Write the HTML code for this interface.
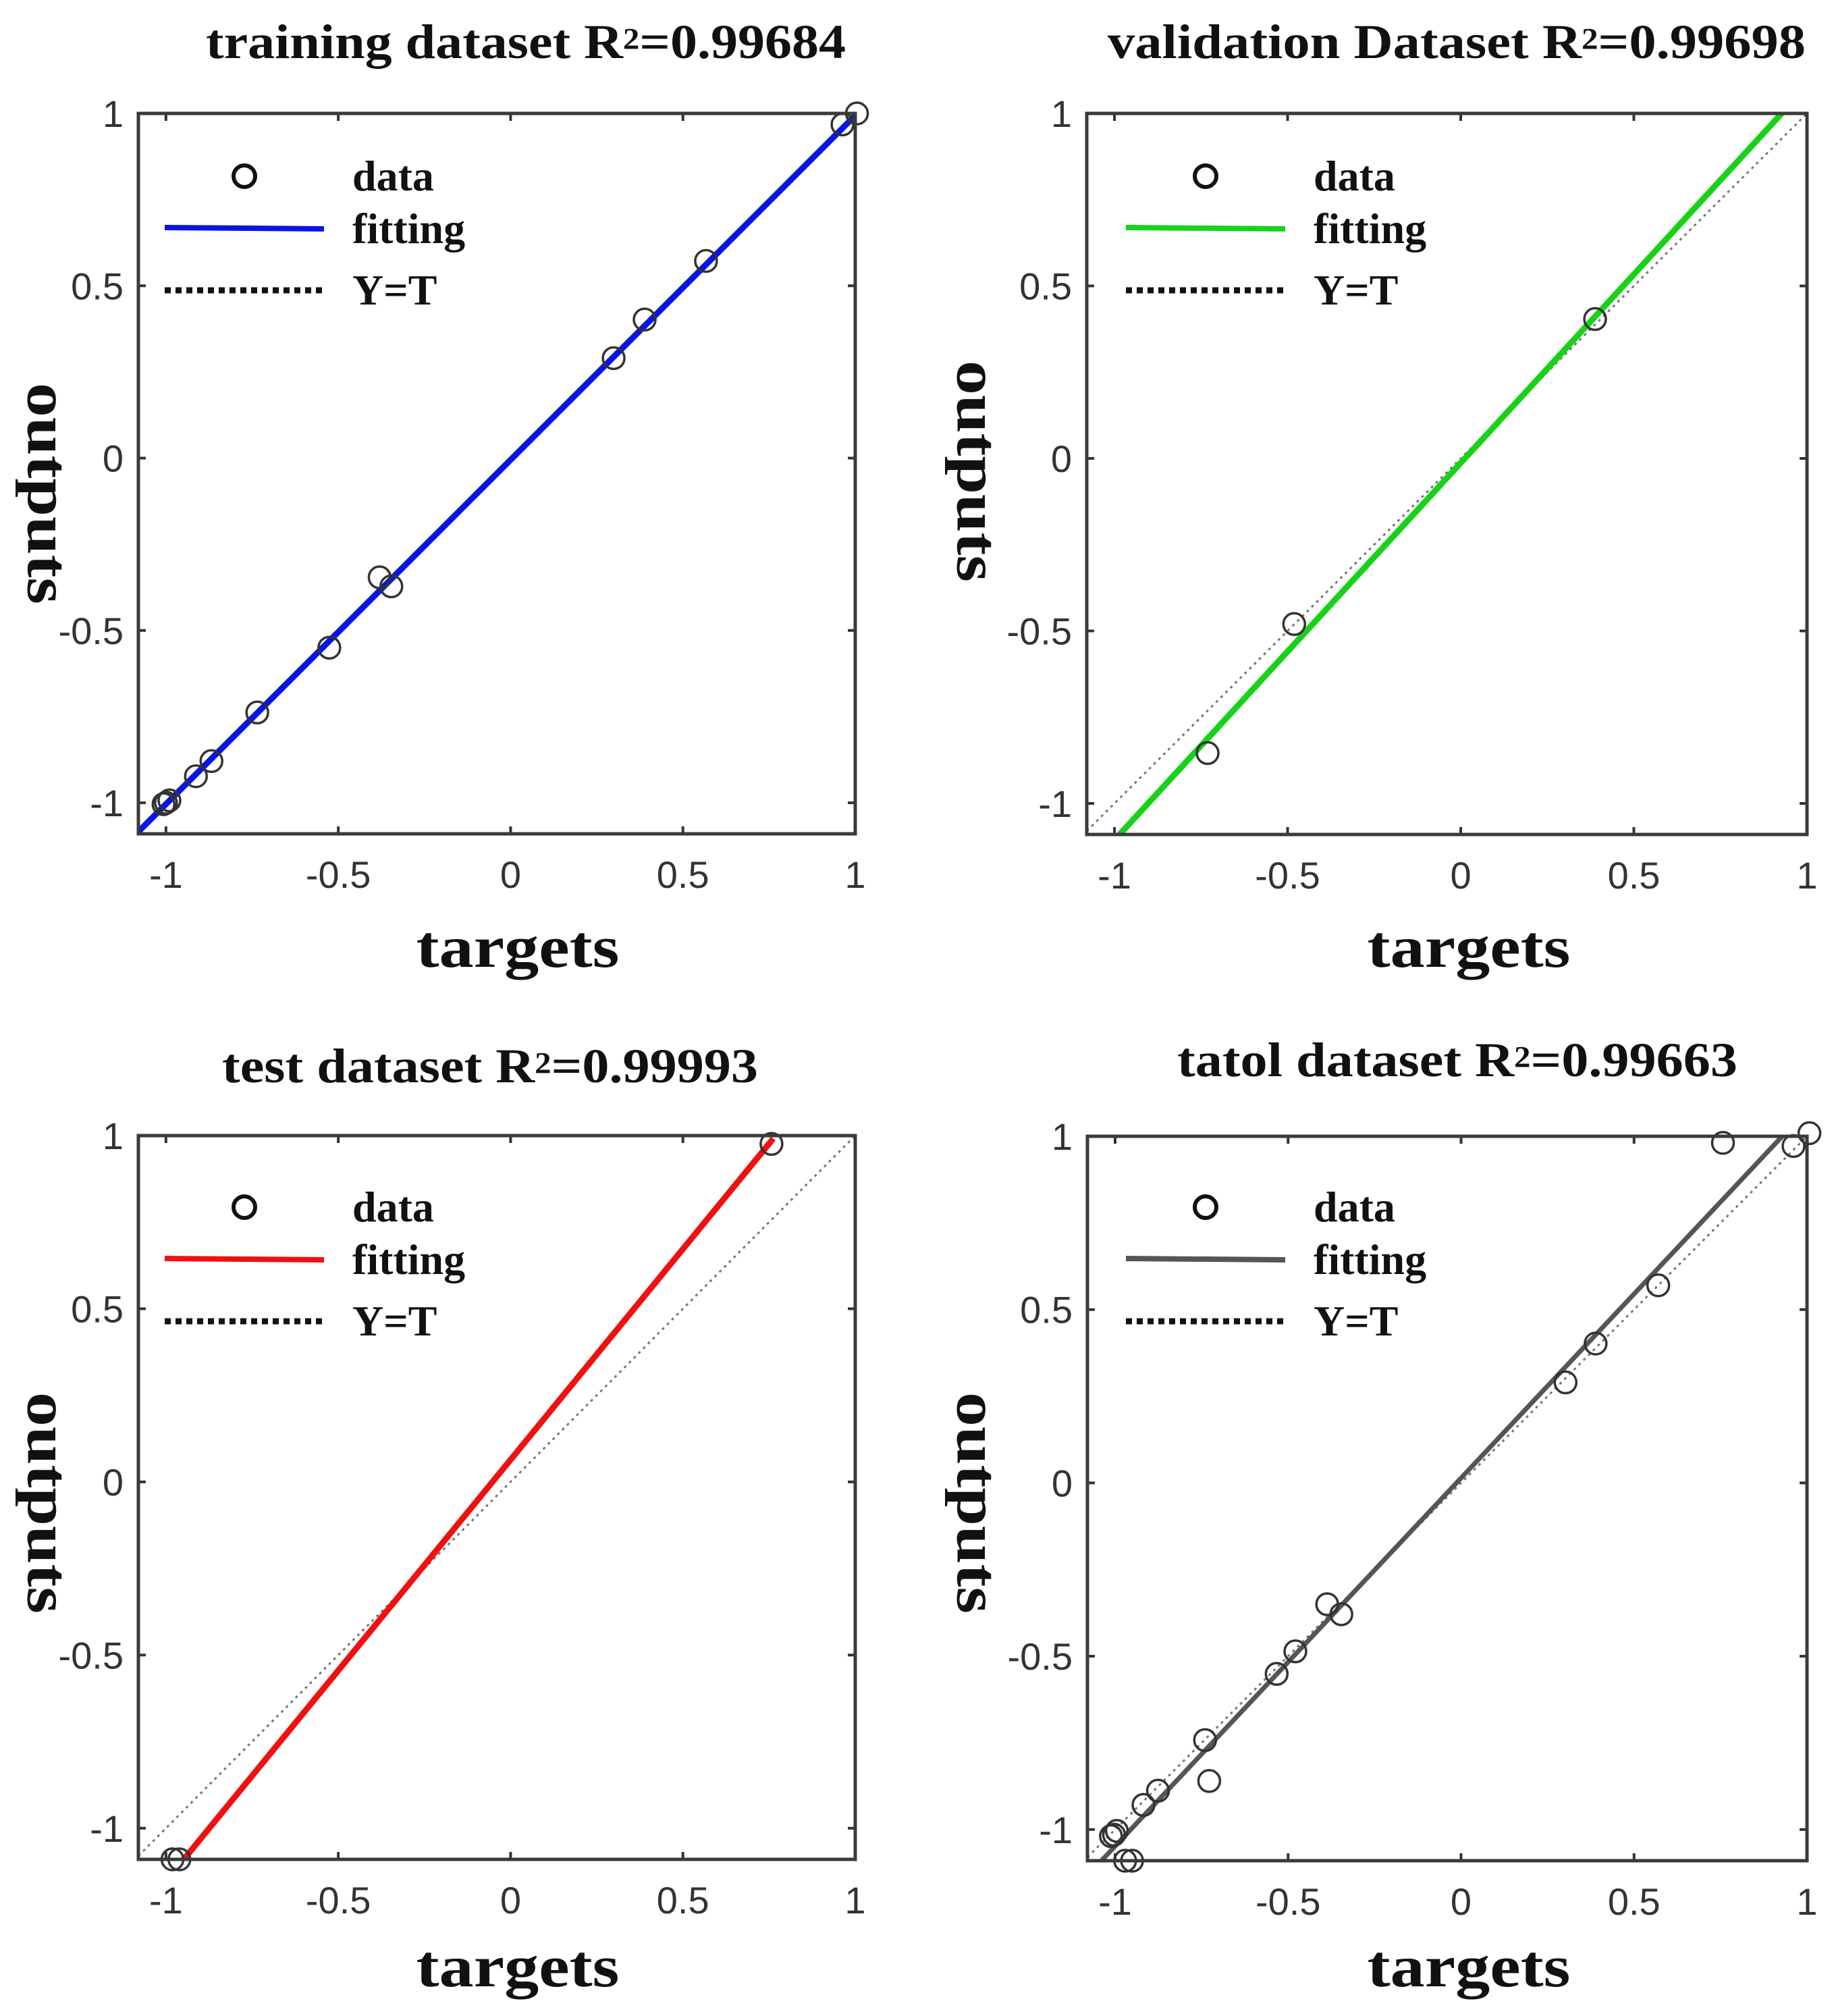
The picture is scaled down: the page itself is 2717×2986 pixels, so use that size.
<!DOCTYPE html>
<html><head><meta charset="utf-8"><style>
html,body{margin:0;padding:0;background:#fff;}
svg{display:block;}
</style></head><body>
<svg id="fig" xmlns="http://www.w3.org/2000/svg" width="2717" height="2986" viewBox="0 0 2717 2986"></svg>
<script>
// ---- data ----
const trainTargets = [1.005,0.963,0.567,0.389,0.299,-0.38,-0.346,-0.526,-0.735,-0.868,-0.913,-1.0,-0.99,-1.007];
const trainOutputs = [1.0,0.968,0.572,0.402,0.29,-0.346,-0.372,-0.55,-0.738,-0.879,-0.923,-1.0,-0.993,-1.004];
const valTargets = [0.388,-0.481,-0.731];
const valOutputs = [0.404,-0.48,-0.854];
const testTargets = [0.757,-0.961,-0.981];
const testOutputs = [0.976,-1.09,-1.09];
const totalTargets = [1.007,0.961,0.757,0.570,0.389,0.302,-0.387,-0.346,-0.479,-0.533,-0.74,-0.728,-0.876,-0.918,-1.003,-0.995,-1.012,-0.971,-0.951];
const totalOutputs = [1.009,0.972,0.981,0.570,0.402,0.29,-0.35,-0.379,-0.486,-0.551,-0.742,-0.86,-0.888,-0.929,-1.015,-1.004,-1.019,-1.09,-1.09];
const fitSlopes = [0.999,1.093,1.217,1.062];
const fitIntercepts = [-0.005,-0.013,0.064,0.014];
const fitRangeStart = [-1.08,-1.08,-0.955,-1.06];
const fitRangeEnd = [1.0,1.0,0.762,0.932];
const titleNames = ["training dataset R","validation Dataset R","test dataset R","tatol dataset R"];
const r2Values = ["=0.99684","=0.99698","=0.99993","=0.99663"];
const tickValues = [-1,-0.5,0,0.5,1];
const tickLabels = ["-1","-0.5","0","0.5","1"];

const NS="http://www.w3.org/2000/svg";
const svg=document.getElementById('fig');
function mk(tag,attrs,parent){const e=document.createElementNS(NS,tag);for(const k in attrs)e.setAttribute(k,attrs[k]);(parent||svg).appendChild(e);return e;}

const panels=[
 {L:205,T:168,R:1267,B:1235,col:"#0a14e6",fw:9,tx:[305,948],ty:86,tgX:767,tgY:1432,outX:70,outY:731,lgX:362,lgT:522,lgL:[244,480],lgY:261,tT:trainTargets,tO:trainOutputs},
 {L:1610,T:168,R:2677,B:1236,col:"#18d218",fw:9,tx:[1641,1034],ty:86,tgX:2176,tgY:1432,outX:1447,outY:698,lgX:1786,lgT:1946,lgL:[1668,1904],lgY:261,tT:valTargets,tO:valOutputs},
 {L:205,T:1682,R:1267,B:2754,col:"#f01010",fw:9,tx:[329,794],ty:1603,tgX:767,tgY:2942,outX:70,outY:2226,lgX:362,lgT:522,lgL:[244,480],lgY:1788,tT:testTargets,tO:testOutputs},
 {L:1611,T:1683,R:2677,B:2756,col:"#555555",fw:7,tx:[1744,830],ty:1594,tgX:2176,tgY:2942,outX:1447,outY:2226,lgX:1786,lgT:1946,lgL:[1668,1904],lgY:1788,tT:totalTargets,tO:totalOutputs}
];
const XMIN=-1.08,XMAX=1.0,YMIN=-1.09,YMAX=1.0;

panels.forEach((p,i)=>{
  const g=mk('g',{});
  
  
  const sx=v=>p.L+(v-XMIN)/(XMAX-XMIN)*(p.R-p.L);
  const sy=v=>p.B-(v-YMIN)/(YMAX-YMIN)*(p.B-p.T);
  const cid='clip'+i;
  const cp=mk('clipPath',{id:cid},g);
  mk('rect',{x:p.L,y:p.T,width:p.R-p.L,height:p.B-p.T},cp);
  // title
  const t=mk('text',{x:p.tx[0],y:p.ty,'font-family':'"Liberation Serif",serif','font-weight':'bold','font-size':72,fill:'#111'},g);
  
  
  const s1=mk('tspan',{},t);s1.textContent=titleNames[i];
  const s2=mk('tspan',{'font-size':44,dy:-14},t);s2.textContent='2';
  const s3=mk('tspan',{dy:14},t);s3.textContent=r2Values[i];
  t.setAttribute('textLength',p.tx[1]);t.setAttribute('lengthAdjust','spacingAndGlyphs');
  // ticks
  tickValues.forEach((v,k)=>{
    const X=sx(v),Y=sy(v);
    mk('line',{x1:X,y1:p.B,x2:X,y2:p.B-11,stroke:'#333','stroke-width':4},g);
    mk('line',{x1:X,y1:p.T,x2:X,y2:p.T+11,stroke:'#333','stroke-width':4},g);
    mk('line',{x1:p.L,y1:Y,x2:p.L+11,y2:Y,stroke:'#333','stroke-width':4},g);
    mk('line',{x1:p.R,y1:Y,x2:p.R-11,y2:Y,stroke:'#333','stroke-width':4},g);
    const xl=mk('text',{x:X,y:p.B+80,'text-anchor':'middle','font-family':'"Liberation Sans",sans-serif','font-size':56,fill:'#333'},g);
    
    
    xl.textContent=tickLabels[k];
    const yl=mk('text',{x:p.L-22,y:Y+20,'text-anchor':'end','font-family':'"Liberation Sans",sans-serif','font-size':56,fill:'#333'},g);
    
    
    yl.textContent=tickLabels[k];
  });
  // Y=T line
  const yt=mk('line',{x1:sx(XMIN),y1:sy(XMIN),x2:sx(XMAX),y2:sy(XMAX),stroke:'#777','stroke-width':3,'stroke-dasharray':'4 6','clip-path':'url(#'+cid+')'},g);
  
  
  // fit line
  const fx0=fitRangeStart[i],fx1=fitRangeEnd[i];
  const fl=mk('line',{x1:sx(fx0),y1:sy(fitSlopes[i]*fx0+fitIntercepts[i]),x2:sx(fx1),y2:sy(fitSlopes[i]*fx1+fitIntercepts[i]),stroke:p.col,'stroke-width':p.fw,'clip-path':'url(#'+cid+')'},g);
  
  
  // data points
  p.tT.forEach((tv,k)=>{
    const c=mk('circle',{cx:sx(tv),cy:sy(p.tO[k]),r:16,fill:'none',stroke:'#333','stroke-width':3.5},g);
    
    
  });
  // box
  const bx=mk('rect',{x:p.L,y:p.T,width:p.R-p.L,height:p.B-p.T,fill:'none',stroke:'#3a3a3a','stroke-width':5},g);
  
  
  // axis titles
  const xt=mk('text',{x:p.tgX,y:p.tgY,'text-anchor':'middle','font-family':'"Liberation Serif",serif','font-weight':'bold','font-size':88,fill:'#111',textLength:301,lengthAdjust:'spacingAndGlyphs'},g);
  
  
  xt.textContent='targets';
  const ytt=mk('text',{x:0,y:0,'text-anchor':'middle','dominant-baseline':'central','font-family':'"Liberation Serif",serif','font-weight':'bold','font-size':88,fill:'#111',textLength:328,lengthAdjust:'spacingAndGlyphs',transform:'translate('+p.outX+','+p.outY+') rotate(90)'},g);
  
  
  ytt.textContent='outputs';
  // legend
  const lg=mk('g',{},g);
  
  
  mk('circle',{cx:p.lgX,cy:p.lgY,r:16,fill:'none',stroke:'#111','stroke-width':6},lg);
  mk('line',{x1:p.lgL[0],y1:p.lgY+76,x2:p.lgL[1],y2:p.lgY+78,stroke:p.col,'stroke-width':8},lg);
  mk('line',{x1:p.lgL[0],y1:p.lgY+169,x2:p.lgL[1],y2:p.lgY+169,stroke:'#111','stroke-width':9,'stroke-dasharray':'9 7'},lg);
  [['data',0],['fitting',78],['Y=T',169]].forEach(([s,dy])=>{
    const tx=mk('text',{x:p.lgT,y:p.lgY+dy+21,'font-family':'"Liberation Serif",serif','font-weight':'bold','font-size':64,fill:'#111'},lg);
    
    
    tx.textContent=s;
  });
});
</script>
</body></html>
